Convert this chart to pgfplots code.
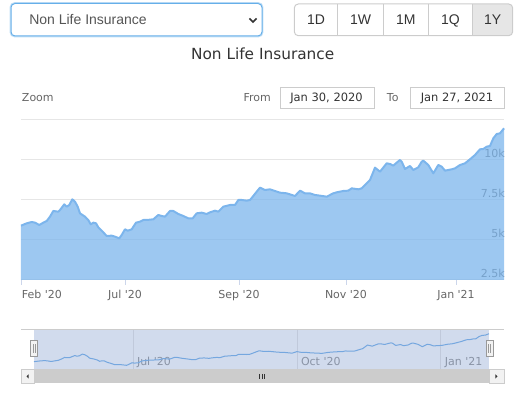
\documentclass[border=0pt]{standalone}
\usepackage{pgfplots}
\usepackage{pgfplotstable}
\pgfplotsset{compat=1.18}
\usepackage{fontspec}
\setmainfont{Liberation Sans}
\newfontfamily\hc{DejaVu Sans}
\definecolor{hcline}{HTML}{7CB5EC}
\definecolor{gridc}{HTML}{E6E6E6}
\definecolor{tickc}{HTML}{CCD6EB}
\definecolor{lab}{HTML}{666666}
\definecolor{dark}{HTML}{333333}
\definecolor{ddtext}{HTML}{555555}
\definecolor{ddborder}{HTML}{66AFE9}
\definecolor{ddglow}{HTML}{C2DFF6}
\definecolor{btnb}{HTML}{CCCCCC}
\definecolor{btnsel}{HTML}{E6E6E6}
\definecolor{navmask}{HTML}{D1DBED}
\definecolor{navline}{HTML}{75A7DF}
\definecolor{navgrid}{HTML}{C0C9DB}
\definecolor{navlab}{HTML}{8993A5}
\definecolor{scrl}{HTML}{CCCCCC}
\definecolor{btnf}{HTML}{F2F2F2}
\definecolor{hdl}{HTML}{999999}

\pgfplotstableread{
x y
21 5896
26.7 6042
31.7 6125
35 6083
39.3 5938
43.3 6083
46.7 6188
50 6458
53.3 6813
58.3 6771
60 6875
64.3 7229
66.7 7083
69.3 7188
72.3 7542
75 7396
77.7 7083
80 6667
85 6458
88.3 6250
90.7 5979
93.3 6083
96 6042
98.3 5792
101.7 5583
106.7 5250
111.7 5271
115 5208
119.3 5104
121.7 5313
125 5667
127.7 5583
131.7 5667
136 6083
140 6146
143.3 6250
146.7 6250
153.3 6292
158.3 6563
161.7 6500
165 6458
170 6813
173.3 6813
178.3 6625
183.3 6500
188.3 6354
192.7 6354
196.7 6667
201.7 6708
206.7 6625
210 6729
215 6833
218.3 6771
223.3 7083
230 7188
235 7188
238.3 7500
241.7 7500
246.7 7458
250 7500
253.3 7750
256.7 8021
260 8271
265 8125
270 8167
275 8063
280 7958
286.7 7917
295 7750
300 8083
305 7917
310 7917
315 7813
320 7771
326.7 7708
333.3 7917
336.7 7979
343.3 8063
348.3 8083
351.7 8229
358.3 8167
361.7 8229
365 8438
370 8750
375 9521
380 9271
386.7 9792
390 9750
393.3 9646
396.7 9833
400 10000
401.7 9896
405 9438
410 9625
413.3 9375
418.3 9542
421.7 9896
423.3 9958
428.3 9688
433.3 9167
438.3 9688
441.7 9583
445 9333
451.7 9417
455 9479
460 9688
465 9792
470 10042
475 10313
480 10667
483.3 10688
486.7 10833
490 10875
493.3 11354
496.7 11625
500 11667
504 11979
}\datatable

\begin{document}
\begin{tikzpicture}
\path[use as bounding box] (0,0) rectangle (389.25pt,298.5pt);

\begin{scope}[yshift=298.5pt, x=0.75pt, y=-0.75pt]
% dropdown
\draw[draw=ddglow, line width=2.2pt, rounded corners=3pt] (11,3.5) rectangle (262,36);
\draw[draw=ddborder, fill=white, rounded corners=3pt, line width=0.75pt] (11,3.5) rectangle (262,36);
\node[anchor=base west, inner sep=0pt, font=\fontsize{10.5}{12}\selectfont, text=ddtext] at (29,25) {Non Life Insurance};
\draw[dark, line width=1.3pt] (249.5,18.5) -- (253,22) -- (256.5,18.5);

% buttons
\begin{scope}
\clip[rounded corners=3pt] (294.3,4) rectangle (512.7,35.7);
\fill[btnsel] (472.7,4) rectangle (512.7,35.7);
\end{scope}
\draw[btnb, line width=0.75pt, rounded corners=3pt] (294.3,4) rectangle (512.7,35.7);
\foreach \xx in {337.7,383.3,428.3,472.7} \draw[btnb, line width=0.75pt] (\xx,4) -- (\xx,35.7);
\foreach \xx/\tt in {316/1D,360.5/1W,405.8/1M,450.5/1Q,492.7/1Y}
  \node[anchor=base, inner sep=0pt, font=\fontsize{10.5}{12}\selectfont, text=dark] at (\xx,25) {\tt};

% title
\node[anchor=base, inner sep=0pt, font=\hc\fontsize{11.5}{14}\selectfont, text=dark] at (262.7,59.3) {Non Life Insurance};

% range selector
\node[anchor=base west, inner sep=0pt, font=\hc\fontsize{8.25}{10}\selectfont, text=lab] at (21.7,101.5) {Zoom};
\node[anchor=base west, inner sep=0pt, font=\hc\fontsize{8.25}{10}\selectfont, text=lab] at (243.3,101.5) {From};
\node[anchor=base west, inner sep=0pt, font=\hc\fontsize{8.25}{10}\selectfont, text=lab] at (386.7,101.5) {To};
\draw[btnb, line width=0.75pt] (280,87.3) rectangle (374.3,108.3);
\draw[btnb, line width=0.75pt] (410,87.3) rectangle (504.3,108.3);
\node[anchor=base, inner sep=0pt, font=\hc\fontsize{8.6}{10}\selectfont, text=dark] at (326.5,101.8) {Jan 30, 2020};
\node[anchor=base, inner sep=0pt, font=\hc\fontsize{8.6}{10}\selectfont, text=dark] at (457,101.8) {Jan 27, 2021};

% navigator frame
\draw[btnb, line width=0.75pt] (21,329.3) -- (504,329.3);
\fill[navmask] (34,329.7) rectangle (489,369.3);
\end{scope}

% main chart
\begin{axis}[at={(15.75pt,88.5pt)}, anchor=south west, scale only axis,
  width=362.25pt, height=120pt,
  xmin=21, xmax=504, ymin=2500, ymax=12500,
  axis line style={draw=none},
  scaled y ticks=false, scaled x ticks=false,
  ymajorgrids, grid style={gridc, line width=0.75pt},
  ytick={2500,5000,7500,10000,12500},
  yticklabels={2.5k,5k,7.5k,10k,},
  yticklabel pos=right,
  ytick style={draw=none},
  xtick={22,125,239,346,456},
  xticklabels={\makebox[0pt][l]{Feb \textquotesingle20},Jul \textquotesingle20,Sep \textquotesingle20,Nov \textquotesingle20,Jan \textquotesingle21},
  xtick pos=lower,
  tick align=outside,
  major tick length=3.75pt,
  xtick style={tickc, line width=0.75pt},
  ticklabel style={font=\hc\fontsize{8.25}{10}\selectfont, text=lab},
  yticklabel style={anchor=base east, inner sep=0pt, xshift=-3pt, yshift=1.6pt},
  xticklabel style={yshift=-0.5pt},
  clip=false,
]
\addplot[draw=none, fill=hcline, fill opacity=0.75] table[x=x,y=y]{\datatable} \closedcycle;
\addplot[hcline, line width=1.5pt, line join=round] table[x=x,y=y]{\datatable};
\end{axis}

% navigator
\begin{axis}[at={(25.5pt,21.525pt)}, anchor=south west, scale only axis,
  width=341.25pt, height=29.7pt,
  xmin=21, xmax=504, ymin=4240, ymax=12860,
  axis line style={draw=none},
  scaled y ticks=false, scaled x ticks=false,
  ytick=\empty,
  xtick={126.1,300.2,453},
  xticklabels={Jul \textquotesingle20,Oct \textquotesingle20,Jan \textquotesingle21},
  xmajorgrids, grid style={navgrid, line width=0.75pt},
  major tick length=0pt, tick style={draw=none},
  xticklabel style={anchor=base west, inner sep=0pt, xshift=2.8pt, yshift=3pt, font=\hc\fontsize{8.25}{10}\selectfont, text=navlab},
]
\addplot[navline, line width=0.75pt] table[x=x,y=y]{\datatable};
\end{axis}

\begin{scope}[yshift=298.5pt, x=0.75pt, y=-0.75pt]
% handles
\draw[fill=btnf, draw=hdl, line width=0.75pt] (30.7,341) rectangle (37.7,356.7);
\draw[hdl, line width=0.75pt] (33.2,344.5) -- (33.2,353.2) (35.2,344.5) -- (35.2,353.2);
\draw[fill=btnf, draw=hdl, line width=0.75pt] (486.2,341) rectangle (493.2,356.7);
\draw[hdl, line width=0.75pt] (488.7,344.5) -- (488.7,353.2) (490.7,344.5) -- (490.7,353.2);

% scrollbar
\fill[scrl] (34,369.3) rectangle (489,383.3);
\draw[fill=btnf, draw=btnb, line width=0.75pt] (21,369.3) rectangle (34,383.3);
\draw[fill=btnf, draw=btnb, line width=0.75pt] (489,369.3) rectangle (504,383.3);
\fill[dark] (26.5,376.5) -- (28.7,374.3) -- (28.7,378.7) -- cycle;
\fill[dark] (497.5,376.5) -- (495.3,374.3) -- (495.3,378.7) -- cycle;
\draw[dark, line width=0.75pt] (259.5,374) -- (259.5,378.7) (262,374) -- (262,378.7) (264.5,374) -- (264.5,378.7);
\end{scope}
\end{tikzpicture}
\end{document}
